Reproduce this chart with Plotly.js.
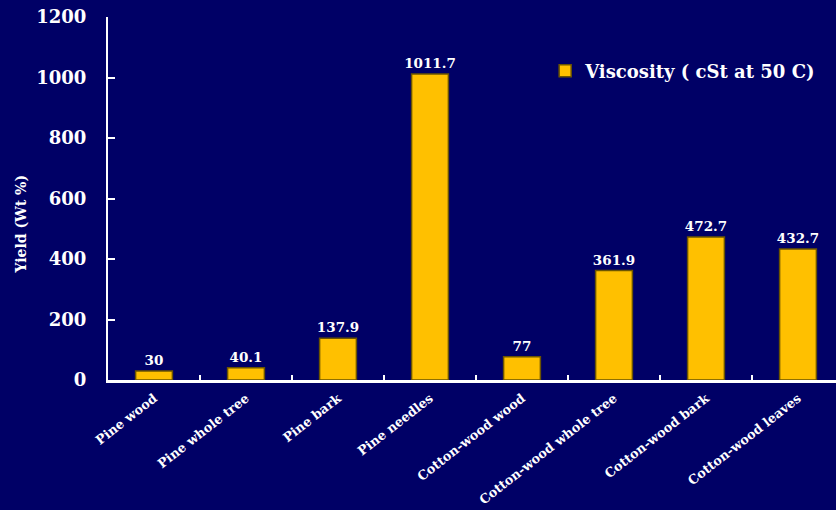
<!DOCTYPE html>
<html>
<head>
<meta charset="utf-8">
<script src="https://cdn.plot.ly/plotly-3.0.1.min.js"></script>
<style>html,body{margin:0;padding:0;background:#000066;}#chart{width:836px;height:510px;}</style>
</head>
<body>
<div id="chart"></div>
<script>
const categories = ["Pine wood", "Pine whole tree", "Pine bark", "Pine needles", "Cotton-wood wood", "Cotton-wood whole tree", "Cotton-wood bark", "Cotton-wood leaves"];
const viscosity = [30, 40.1, 137.9, 1011.7, 77, 361.9, 472.7, 432.7];
const valueLabels = ["30", "40.1", "137.9", "1011.7", "77", "361.9", "472.7", "432.7"];
const yTicks = [0, 200, 400, 600, 800, 1000, 1200];
const seriesName = "Viscosity ( cSt at 50 C)";
const yTitle = "Yield (Wt %)";

const serif = "DejaVu Serif, Liberation Serif, serif";

const trace = {
  type: "bar",
  x: categories,
  y: viscosity,
  name: seriesName,
  text: valueLabels,
  textposition: "outside",
  constraintext: "none",
  textfont: {family: serif, size: 13.5, color: "#ffffff", weight: 700},
  cliponaxis: false,
  width: 0.4,
  marker: {color: "#ffc000", line: {color: "#6b5400", width: 1.5}},
  showlegend: true
};

const layout = {
  width: 836, height: 510,
  paper_bgcolor: "#000066", plot_bgcolor: "#000066",
  margin: {l: 108, r: 0, t: 17, b: 130},
  showlegend: true,
  legend: {x: 0.6005, y: 0.851, xanchor: "left", yanchor: "middle", bgcolor: "rgba(0,0,0,0)",
           font: {family: serif, size: 18, color: "#ffffff", weight: 700}},
  xaxis: {
    range: [-0.5, 7.413], showgrid: false, zeroline: false,
    showline: true, linecolor: "#ffffff", linewidth: 3,
    ticks: "inside", tickson: "boundaries", ticklen: 5, tickwidth: 2, tickcolor: "#ffffff",
    ticklabelstandoff: 3,
    tickangle: -38, tickfont: {family: serif, size: 12.8, color: "#ffffff", weight: 700}
  },
  yaxis: {
    range: [0, 1200], tickvals: yTicks, ticktext: yTicks.map(String),
    showgrid: false, zeroline: false,
    showline: true, linecolor: "#ffffff", linewidth: 2,
    ticks: "inside", ticklen: 7, tickwidth: 2, tickcolor: "#ffffff",
    ticklabelstandoff: 16,
    tickfont: {family: serif, size: 18, color: "#ffffff", weight: 700}
  },
  annotations: [{
    text: yTitle, xref: "paper", yref: "paper", x: -0.12, y: 0.43, showarrow: false,
    textangle: -90, xanchor: "center", yanchor: "middle",
    font: {family: serif, size: 14, color: "#ffffff", weight: 700}
  }]
};

Plotly.newPlot("chart", [trace], layout, {displayModeBar: false, staticPlot: true});
</script>
</body>
</html>
